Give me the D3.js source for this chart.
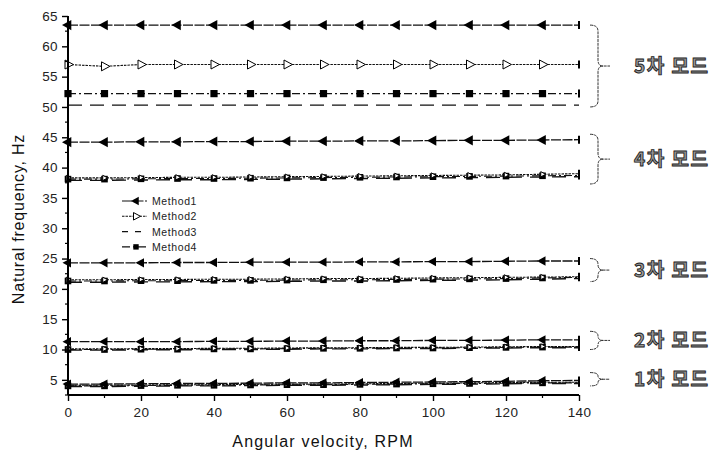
<!DOCTYPE html>
<html>
<head>
<meta charset="utf-8">
<script src="https://cdn.jsdelivr.net/npm/d3@7/dist/d3.min.js"></script>
<style>
  html, body { margin: 0; padding: 0; background: #fff; }
  svg { display: block; }
</style>
</head>
<body>
<svg id="chart" width="723" height="455"></svg>
<script>
// Rotor speed (RPM) at which each natural frequency was computed
const rpm = [0, 10, 20, 30, 40, 50, 60, 70, 80, 90, 100, 110, 120, 130, 140];

// Natural frequencies (Hz) per method, one array per mode
const method1 = {
  mode1: [4.3, 4.3, 4.35, 4.4, 4.4, 4.45, 4.5, 4.5, 4.55, 4.6, 4.65, 4.7, 4.75, 4.85, 4.9],
  mode2: [11.3, 11.3, 11.3, 11.3, 11.35, 11.35, 11.4, 11.4, 11.45, 11.45, 11.5, 11.5, 11.55, 11.6, 11.6],
  mode3: [24.3, 24.3, 24.3, 24.35, 24.35, 24.4, 24.4, 24.4, 24.45, 24.45, 24.5, 24.5, 24.55, 24.6, 24.6],
  mode4: [44.2, 44.2, 44.25, 44.25, 44.3, 44.3, 44.35, 44.35, 44.4, 44.4, 44.45, 44.5, 44.5, 44.55, 44.6],
  mode5: [63.5, 63.5, 63.5, 63.5, 63.5, 63.5, 63.5, 63.5, 63.5, 63.5, 63.5, 63.5, 63.5, 63.5, 63.5]
};
const method2 = {
  mode1: [4.1, 4.1, 4.15, 4.2, 4.2, 4.25, 4.3, 4.3, 4.35, 4.4, 4.45, 4.5, 4.55, 4.6, 4.6],
  mode2: [10.1, 10.1, 10.15, 10.15, 10.2, 10.2, 10.25, 10.3, 10.3, 10.35, 10.35, 10.4, 10.45, 10.5, 10.5],
  mode3: [21.5, 21.5, 21.55, 21.55, 21.6, 21.6, 21.65, 21.7, 21.7, 21.75, 21.8, 21.85, 21.9, 21.95, 22.0],
  mode4: [38.3, 38.3, 38.35, 38.4, 38.4, 38.45, 38.5, 38.55, 38.6, 38.65, 38.7, 38.75, 38.8, 38.9, 39.0],
  mode5: [57.0, 56.7, 57.0, 57.0, 57.0, 57.0, 57.0, 57.0, 57.0, 57.0, 57.0, 57.0, 57.0, 57.0, 57.0]
};
const method3 = {
  mode1: [3.9, 3.9, 3.95, 4.0, 4.0, 4.05, 4.1, 4.1, 4.15, 4.2, 4.25, 4.3, 4.35, 4.4, 4.4],
  mode2: [9.9, 9.9, 9.95, 9.95, 10.0, 10.0, 10.05, 10.1, 10.1, 10.15, 10.15, 10.2, 10.25, 10.3, 10.3],
  mode3: [21.1, 21.1, 21.15, 21.15, 21.2, 21.2, 21.25, 21.3, 21.3, 21.35, 21.4, 21.45, 21.5, 21.6, 21.7],
  mode4: [37.9, 37.9, 37.95, 38.0, 38.0, 38.05, 38.1, 38.15, 38.2, 38.25, 38.3, 38.35, 38.4, 38.45, 38.5],
  mode5: [50.3, 50.3, 50.3, 50.3, 50.3, 50.3, 50.3, 50.3, 50.3, 50.3, 50.3, 50.3, 50.3, 50.3, 50.3]
};
const method4 = {
  mode1: [4.0, 4.0, 4.05, 4.1, 4.1, 4.15, 4.2, 4.2, 4.25, 4.3, 4.35, 4.4, 4.45, 4.5, 4.5],
  mode2: [10.0, 10.0, 10.05, 10.05, 10.1, 10.1, 10.15, 10.2, 10.2, 10.25, 10.25, 10.3, 10.35, 10.4, 10.4],
  mode3: [21.3, 21.3, 21.35, 21.35, 21.4, 21.4, 21.45, 21.5, 21.5, 21.55, 21.6, 21.65, 21.7, 21.8, 21.9],
  mode4: [38.1, 38.1, 38.15, 38.2, 38.2, 38.25, 38.3, 38.35, 38.4, 38.45, 38.5, 38.55, 38.6, 38.65, 38.7],
  mode5: [52.2, 52.2, 52.2, 52.2, 52.2, 52.2, 52.2, 52.2, 52.2, 52.2, 52.2, 52.2, 52.2, 52.2, 52.2]
};

const methodNames = ["Method1", "Method2", "Method3", "Method4"];
const modeKeys = ["mode1", "mode2", "mode3", "mode4", "mode5"];
const modeLabels = ["1차 모드", "2차 모드", "3차 모드", "4차 모드", "5차 모드"];
// Frequency span each brace encloses, [low, high] in Hz
const braceSpans = [[4.0, 6.2], [10.0, 13.0], [21.2, 25.0], [37.3, 45.5], [50.0, 63.5]];

const xTicks = [0, 20, 40, 60, 80, 100, 120, 140];
const yTicks = [5, 10, 15, 20, 25, 30, 35, 40, 45, 50, 55, 60, 65];

const svg = d3.select("#chart");
const margin = { left: 68, right: 144, top: 16, bottom: 60 };
const W = 723, H = 455;

const x = d3.scaleLinear().domain([0, 140]).range([margin.left, W - margin.right]);
const y = d3.scaleLinear().domain([2.5, 65]).range([H - margin.bottom, margin.top]);

const styles = [
  { dash: "10,1.5", width: 1.3, marker: "triL" },
  { dash: "2.5,1", width: 1.1, marker: "triR" },
  { dash: "14,8", width: 1.4, marker: null },
  { dash: "8,3,2,3", width: 1.1, marker: "sq" }
];

const plot = svg.append("g");
const line = d3.line().x((d, i) => x(rpm[i])).y(d => y(d));

function drawMarker(g, type, cx, cy, s) {
  if (type === "triL") {
    g.append("path")
      .attr("d", `M${cx - s},${cy} L${cx + s * 0.55},${cy - s * 0.85} L${cx + s * 0.55},${cy + s * 0.85} Z`)
      .attr("fill", "#000");
  } else if (type === "triR") {
    g.append("path")
      .attr("d", `M${cx + s * 0.9},${cy} L${cx - s * 0.5},${cy - s * 0.75} L${cx - s * 0.5},${cy + s * 0.75} Z`)
      .attr("fill", "#fff").attr("stroke", "#000").attr("stroke-width", 1);
  } else if (type === "sq") {
    g.append("rect")
      .attr("x", cx - s * 0.6).attr("y", cy - s * 0.6)
      .attr("width", s * 1.2).attr("height", s * 1.2)
      .attr("fill", "#000");
  }
}

const allMethods = [method1, method2, method3, method4];
// Draw lower-priority methods first so Method1 sits on top
[2, 3, 1, 0].forEach(mi => {
  const data = allMethods[mi];
  const st = styles[mi];
  modeKeys.forEach(mk => {
    plot.append("path")
      .attr("d", line(data[mk]))
      .attr("fill", "none")
      .attr("stroke", "#111")
      .attr("stroke-width", st.width)
      .attr("stroke-dasharray", st.dash);
    if (st.marker) {
      const s = mk === "mode5" || (mk === "mode4" && st.marker === "triL") ? 6 : 5.5;
      data[mk].forEach((v, i) => {
        if (i === rpm.length - 1) return;
        drawMarker(plot, st.marker, x(rpm[i]), y(v), (st.marker === "triR" && mk !== "mode5") ? 3.5 : s);
      });
      // end caps at the last point
      const lv = data[mk][rpm.length - 1];
      plot.append("line")
        .attr("x1", x(140)).attr("x2", x(140))
        .attr("y1", y(lv) - 4).attr("y2", y(lv) + 4)
        .attr("stroke", "#000").attr("stroke-width", 2);
    }
  });
});

// Axes
const axisG = svg.append("g");
const font = "Arial, 'Liberation Sans', sans-serif";

const yAxis = d3.axisLeft(y).tickValues(yTicks).tickSize(6).tickPadding(4);
const gy = axisG.append("g").attr("transform", `translate(${margin.left},0)`).call(yAxis);
const yMinor = d3.range(2.5, 65, 5);
gy.selectAll(".minor").data(yMinor).enter().append("line")
  .attr("x1", -3).attr("x2", 0).attr("y1", d => y(d)).attr("y2", d => y(d))
  .attr("stroke", "#000").attr("stroke-width", 1.2);

const xAxis = d3.axisBottom(x).tickValues(xTicks).tickSize(6).tickPadding(6);
const gx = axisG.append("g").attr("transform", `translate(0,${H - margin.bottom})`).call(xAxis);
gx.selectAll(".minor").data(d3.range(10, 140, 20)).enter().append("line")
  .attr("x1", d => x(d)).attr("x2", d => x(d)).attr("y1", 0).attr("y2", 3)
  .attr("stroke", "#000").attr("stroke-width", 1.2);

[gx, gy].forEach(g => {
  g.select(".domain").attr("stroke", "#000").attr("stroke-width", 2);
  g.selectAll(".tick line").attr("stroke", "#000").attr("stroke-width", 1.4);
  g.selectAll(".tick text").attr("font-family", font).attr("font-size", 13.5)
    .attr("letter-spacing", 0.4).attr("fill", "#222");
});
gy.select(".domain").attr("d", `M0,${y(2.5)}V${y(65)}`);
gx.select(".domain").attr("d", `M${x(0)},0H${x(140)}`);

svg.append("text")
  .attr("x", 323).attr("y", 447)
  .attr("text-anchor", "middle")
  .attr("font-family", font).attr("font-size", 16).attr("letter-spacing", 1.2).attr("fill", "#111")
  .text("Angular velocity, RPM");

svg.append("text")
  .attr("transform", `translate(24,219) rotate(-90)`)
  .attr("text-anchor", "middle")
  .attr("font-family", font).attr("font-size", 16).attr("letter-spacing", 0.8).attr("fill", "#111")
  .text("Natural frequency, Hz");

// Legend
const legend = svg.append("g").attr("transform", "translate(122,201)");
methodNames.forEach((name, i) => {
  const row = legend.append("g").attr("transform", `translate(0,${i * 15.3})`);
  const st = styles[i];
  row.append("line").attr("x1", 0).attr("x2", 25).attr("y1", 0).attr("y2", 0)
    .attr("stroke", "#111").attr("stroke-width", 1.1)
    .attr("stroke-dasharray", i === 2 ? "6,7" : st.dash);
  if (st.marker) drawMarker(row, st.marker, 14, 0, i === 3 ? 4.5 : 5);
  row.append("text").attr("x", 30).attr("y", 4)
    .attr("font-family", font).attr("font-size", 10.5).attr("letter-spacing", 0.6)
    .attr("fill", "#222").text(name);
});

// Mode braces and labels
const braceG = svg.append("g");
modeKeys.forEach((mk, i) => {
  const [lo, hi] = braceSpans[i];
  const y0 = y(hi), y1 = y(lo), ym = (y0 + y1) / 2;
  const bx = 598, r = Math.min(6, (y1 - y0) / 4);
  const d = `M${bx - 8},${y0} Q${bx},${y0} ${bx},${y0 + r} L${bx},${ym - r} Q${bx},${ym} ${bx + 5},${ym}` +
            ` L${bx + 12},${ym} M${bx + 5},${ym} Q${bx},${ym} ${bx},${ym + r} L${bx},${y1 - r} Q${bx},${y1} ${bx - 8},${y1}`;
  braceG.append("path").attr("d", d).attr("fill", "none")
    .attr("stroke", "#333").attr("stroke-width", 1).attr("stroke-dasharray", "3,0.8");
  braceG.append("text")
    .attr("x", 634).attr("y", ym + 7)
    .attr("font-family", "'Noto Sans CJK KR', sans-serif")
    .attr("font-weight", "bold").attr("font-size", 19)
    .attr("fill", "#9a9a9a").attr("stroke", "#222").attr("stroke-width", 0.9)
    .attr("letter-spacing", 1.5)
    .text(modeLabels[i]);
});
</script>
</body>
</html>
